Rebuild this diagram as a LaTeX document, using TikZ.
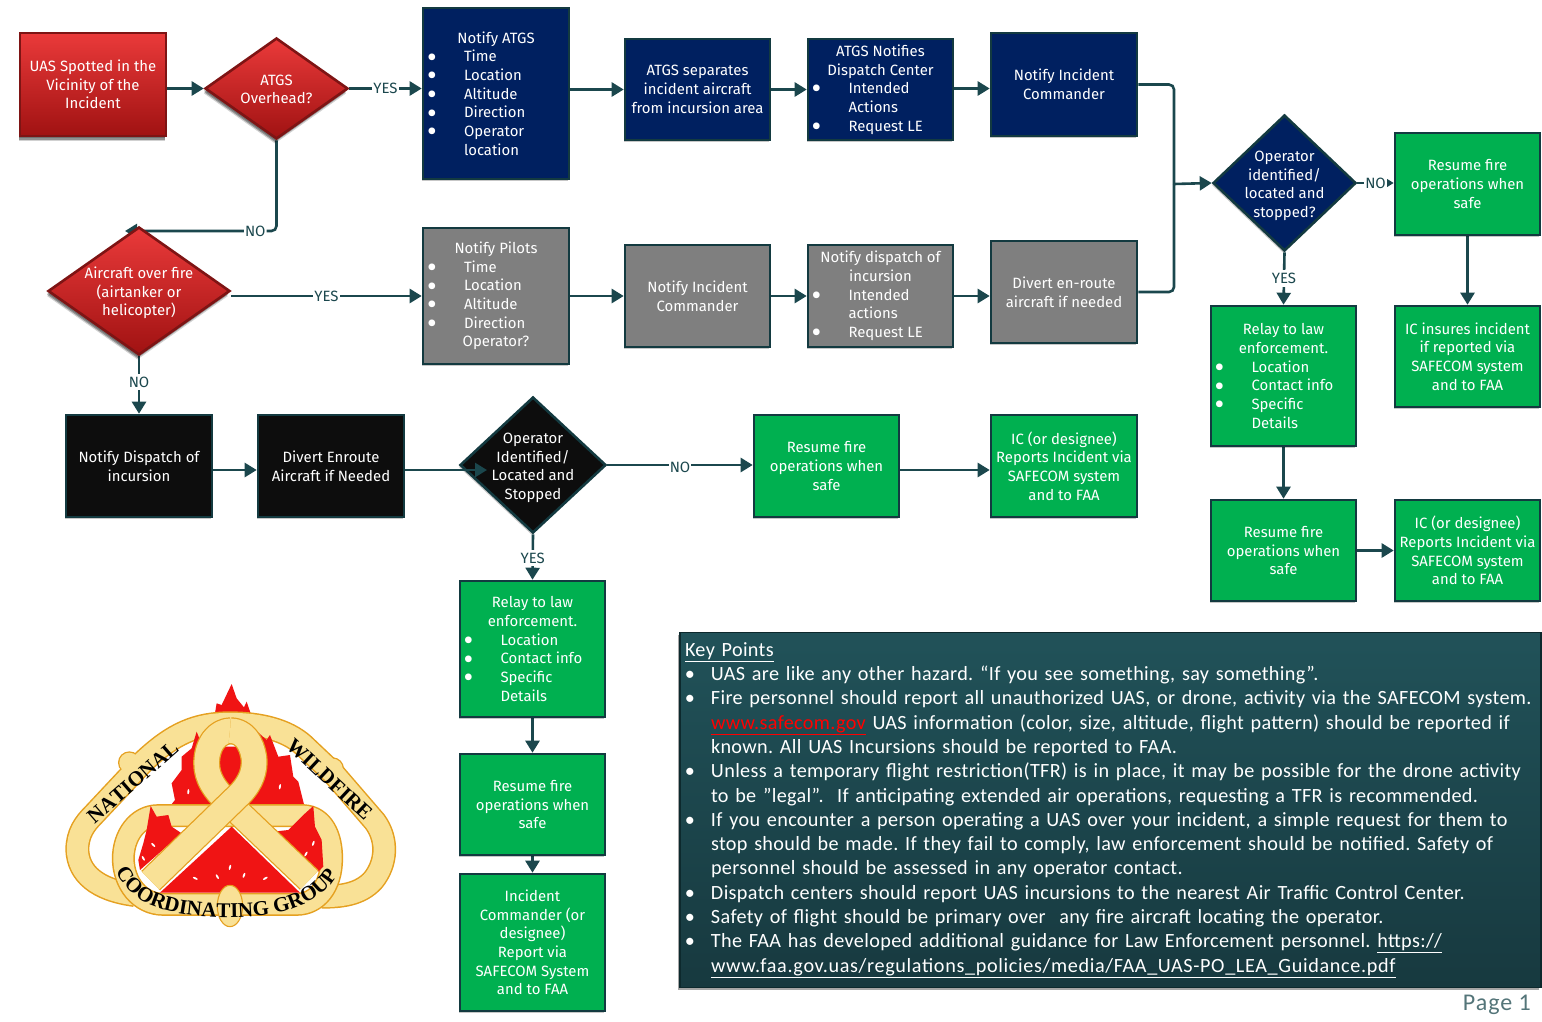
\documentclass[tikz,border=0pt]{standalone}
\usepackage{fontspec}
\setmainfont{Fira Sans}
\newfontfamily\kpfont[LetterSpace=1.7,WordSpace=0.85]{Carlito}
\newfontfamily\kuurl[LetterSpace=3.2,WordSpace=0.85]{Carlito}
\newfontfamily\pgfont[LetterSpace=4]{Carlito}
\newfontfamily\logofont{Liberation Serif}
\usetikzlibrary{shapes.geometric,shadows,arrows.meta,backgrounds,decorations.text}
\definecolor{conn}{HTML}{1B474D}
\definecolor{edge}{HTML}{133A40}
\definecolor{navyf}{HTML}{002060}
\definecolor{greyf}{HTML}{7F7F7F}
\definecolor{greenf}{HTML}{00B050}
\definecolor{blackf}{HTML}{0D0D0D}
\definecolor{redtop}{HTML}{EA3A3A}
\definecolor{redbot}{HTML}{A01212}
\definecolor{rededge}{HTML}{7E1414}
\definecolor{kptop}{HTML}{215259}
\definecolor{kpbot}{HTML}{17393F}
\definecolor{ringy}{HTML}{F9E196}
\definecolor{ringo}{HTML}{E5A020}
\definecolor{flame}{HTML}{F01414}
\newcommand{\bigdot}{\smash{\raisebox{-5.2pt}{\scalebox{2}{\char"2022}}}}
\newcommand{\bu}[1]{\makebox[140pt][l]{\hspace*{6pt}\makebox[0pt]{\bigdot}\hspace*{32pt}#1}}
\newcommand{\nb}[1]{\makebox[140pt][l]{\hspace*{38pt}#1}}
\newcommand{\kp}[1]{\makebox[26pt][l]{\hspace*{5pt}\makebox[0pt]{\char"2022}}#1}
\newcommand{\kq}[1]{\hspace*{26pt}#1}
\tikzset{
  base/.style={draw=edge,line width=2.6pt,text=white,inner sep=0pt,align=center,
    font=\fontsize{14.9}{18.7}\selectfont,
    drop shadow={shadow xshift=-1.5pt,shadow yshift=-2pt,opacity=.22,fill=black}},
  navybox/.style={base,rectangle,fill=navyf},
  greybox/.style={base,rectangle,fill=greyf},
  greenbox/.style={base,rectangle,fill=greenf},
  blackbox/.style={base,rectangle,fill=blackf},
  redbox/.style={base,rectangle,draw=rededge,top color=redtop,bottom color=redbot,
    drop shadow={shadow xshift=-1.5pt,shadow yshift=-5pt,opacity=.18,fill=black},
    drop shadow={shadow xshift=-1.5pt,shadow yshift=-3.5pt,opacity=.3,fill=black}},
  dtext/.style={text=white,align=center,inner sep=0pt,font=\fontsize{14.9}{18.7}\selectfont},
  conn/.style={draw=conn,line width=2.6pt,-{Triangle[length=12pt,width=14pt]}},
  plain/.style={draw=conn,line width=2.6pt},
  lab/.style={fill=white,text=conn,inner xsep=1pt,inner ysep=3pt,font=\fontsize{14.9}{16}\selectfont},
  band/.style={draw=#1,line cap=butt,line join=round},
}
\begin{document}
\begin{tikzpicture}[x=1pt,y=-1pt]
\useasboundingbox (0,0) rectangle (1542,1021);
\begin{scope}[on background layer]
\fill[white] (0,0) rectangle (1542,1021);
\end{scope}

% ---------- row 1
\node[redbox,minimum width=146,minimum height=103] (uas) at (93,84.5) {UAS Spotted in the\\Vicinity of the\\Incident};
\node[redbox,diamond,minimum width=143,minimum height=101,label={[dtext,yshift=-1pt]center:ATGS\\Overhead?}] (atgsq) at (276.5,88.5) {};
\node[navybox,minimum width=146,minimum height=171] (atgs) at (496,93.5) {Notify ATGS\\\bu{Time}\\\bu{Location}\\\bu{Altitude}\\\bu{Direction}\\\bu{Operator}\\\nb{location}};
\node[navybox,minimum width=145,minimum height=101] (sep) at (697.5,89.5) {ATGS separates\\incident aircraft\\from incursion area};
\node[navybox,minimum width=145,minimum height=101] (atnot) at (880.5,89.5) {ATGS Notifies\\Dispatch Center\\\bu{Intended}\\\nb{Actions}\\\bu{Request LE}};
\node[navybox,minimum width=146,minimum height=103] (ic) at (1064,84.5) {Notify Incident\\Commander};
\node[navybox,diamond,minimum width=143,minimum height=136,label={[dtext,yshift=-3pt]center:Operator\\identified/\\located and\\stopped?}] (opq) at (1284.5,183) {};
\node[greenbox,minimum width=145,minimum height=102] (res1) at (1467.5,184) {Resume fire\\operations when\\safe};

% ---------- row 2
\node[redbox,diamond,minimum width=182,minimum height=128,label={[dtext,yshift=-2pt]center:Aircraft over fire\\(airtanker or\\helicopter)}] (airq) at (139,291) {};
\node[greybox,minimum width=146,minimum height=136] (pil) at (496,296) {Notify Pilots\\\bu{Time}\\\bu{Location}\\\bu{Altitude}\\\bu{Direction}\\\makebox[140pt]{Operator?}};
\node[greybox,minimum width=145,minimum height=102] (icg) at (697.5,296) {Notify Incident\\Commander};
\node[greybox,minimum width=145,minimum height=102] (dis) at (880.5,296) {Notify dispatch of\\incursion\\\bu{Intended}\\\nb{actions}\\\bu{Request LE}};
\node[greybox,minimum width=146,minimum height=102] (div) at (1064,292) {Divert en-route\\aircraft if needed};
\node[greenbox,minimum width=145,minimum height=140] (relr) at (1283.5,376) {Relay to law\\enforcement.\\\bu{Location}\\\bu{Contact info}\\\bu{Specific}\\\nb{Details}};
\node[greenbox,minimum width=145,minimum height=101] (ins) at (1467.5,356.5) {IC insures incident\\if reported via\\SAFECOM system\\and to FAA};

% ---------- row 3
\node[blackbox,minimum width=146,minimum height=102] (ndi) at (139,466) {Notify Dispatch of\\incursion};
\node[blackbox,minimum width=146,minimum height=102] (den) at (331,466) {Divert Enroute\\Aircraft if Needed};
\node[blackbox,diamond,minimum width=146,minimum height=136,label={[dtext,yshift=-3pt]center:Operator\\Identified/\\Located and\\Stopped}] (opb) at (533,465) {};
\node[greenbox,minimum width=145,minimum height=102] (res2) at (826.5,466) {Resume fire\\operations when\\safe};
\node[greenbox,minimum width=146,minimum height=102] (ic2) at (1064,466) {IC (or designee)\\Reports Incident via\\SAFECOM system\\and to FAA};
\node[greenbox,minimum width=145,minimum height=101] (res3) at (1283.5,550.5) {Resume fire\\operations when\\safe};
\node[greenbox,minimum width=145,minimum height=101] (ic3) at (1467.5,550.5) {IC (or designee)\\Reports Incident via\\SAFECOM system\\and to FAA};

% ---------- column 3
\node[greenbox,minimum width=145,minimum height=136] (relc) at (532.5,649) {Relay to law\\enforcement.\\\bu{Location}\\\bu{Contact info}\\\bu{Specific}\\\nb{Details}};
\node[greenbox,minimum width=145,minimum height=101] (res4) at (532.5,804.5) {Resume fire\\operations when\\safe};
\node[greenbox,minimum width=145,minimum height=137] (inc) at (532.5,942.5) {Incident\\Commander (or\\designee)\\Report via\\SAFECOM System\\and to FAA};

% ---------- connectors (under the boxes)
\coordinate (airtip) at (125,231);
\coordinate (jr) at (1174,184);
\begin{scope}[on background layer]
\draw[conn] (uas.east |- atgsq.west) -- (atgsq.west);
\draw[conn] (atgsq.east) -- node[lab,pos=.5]{YES} (atgs.west |- atgsq.east);
\draw[conn] (atgs.east |- sep.west) -- (sep.west);
\draw[conn] (sep.east) -- (atnot.west);
\draw[conn] (atnot.east |- atgsq.east) -- (ic.west |- atgsq.east);
\draw[plain,rounded corners=5pt] (ic.east) -- (ic.east -| jr) -- (jr);
\draw[plain,rounded corners=5pt] (div.east) -- (div.east -| jr) -- (jr);
\draw[conn] (jr) -- (opq.west);
\draw[conn] (opq.east) -- node[lab,pos=.5]{NO} (res1.west |- opq.east);
\draw[conn] (opq.south) -- node[lab,pos=.5]{YES} (relr.north);
\draw[conn] (res1.south) -- (ins.north);
\draw[conn,rounded corners=5pt] (atgsq.south) -- (atgsq.south |- airtip) -- node[lab,pos=.14]{NO} (airtip);
\draw[conn] (airq.east |- pil.west) -- node[lab,pos=.5]{YES} (pil.west);
\draw[conn] (pil.east) -- (icg.west);
\draw[conn] (icg.east) -- (dis.west);
\draw[conn] (dis.east) -- (dis.east -| div.west);
\draw[conn] (airq.south) -- node[lab,pos=.45]{NO} (ndi.north);
\draw[conn] ([yshift=-4pt]ndi.east) -- ([yshift=-4pt]den.west);
\draw[conn] (opb.east) -- node[lab,pos=.5,yshift=-2pt]{NO} (opb.east -| res2.west);
\draw[conn] ([yshift=-4pt]res2.east) -- ([yshift=-4pt]ic2.west);
\draw[conn] (opb.south) -- node[lab,pos=.52]{YES} (relc.north);
\draw[conn] (relc.south) -- (res4.north);
\draw[conn] (res4.south) -- (inc.north);
\draw[conn] (relr.south) -- (res3.north);
\draw[conn] (res3.east) -- (ic3.west);
\end{scope}
\coordinate (btip) at (487,470);
\draw[conn] ([yshift=-4pt]den.east) -- (btip);

% ---------- key points
\node[rectangle,draw=edge!70!black,line width=1.2pt,top color=kptop,bottom color=kpbot,
  drop shadow={shadow xshift=-2.5pt,shadow yshift=-2pt,opacity=.35,fill=black},
  minimum width=861,minimum height=355,text width=851,inner xsep=5pt,inner ysep=0pt,
  align=left,text=white,font=\kpfont\frenchspacing\fontsize{20.2}{24.3}\selectfont] (kp) at (1110.5,810)
{\underline{Key Points}\\
\kp{UAS are like any other hazard. “If you see something, say something”.}\\
\kp{Fire personnel should report all unauthorized UAS, or drone, activity via the SAFECOM system.}\\
\kq{\textcolor{red}{\underline{www.safecom.gov}} UAS information (color, size, altitude, flight pattern) should be reported if}\\
\kq{known. All UAS Incursions should be reported to FAA.}\\
\kp{Unless a temporary flight restriction(TFR) is in place, it may be possible for the drone activity}\\
\kq{to be ”legal”.~ If anticipating extended air operations, requesting a TFR is recommended.}\\
\kp{If you encounter a person operating a UAS over your incident, a simple request for them to}\\
\kq{stop should be made. If they fail to comply, law enforcement should be notified. Safety of}\\
\kq{personnel should be assessed in any operator contact.}\\
\kp{Dispatch centers should report UAS incursions to the nearest Air Traffic Control Center.}\\
\kp{Safety of flight should be primary over~ any fire aircraft locating the operator.}\\
\kp{The FAA has developed additional guidance for Law Enforcement personnel. \underline{https://}}\\
\kq{\kuurl\underline{www.faa.gov.uas/regulations\_policies/media/FAA\_UAS-PO\_LEA\_Guidance.pdf}}\\[10pt]};
\node[text=conn!75!white,inner sep=0pt,anchor=east,font=\pgfont\fontsize{24}{25}\selectfont] (page) at (1531,1005) {Page 1};

% ---------- logo (drawn directly; units are 3x zoom pixels)
\begin{scope}[shift={(40,670)},x=.3333pt,y=-.3333pt]
% top flame, behind the band
\fill[flame] (575,42) -- (590,85) -- (612,112) -- (620,95) -- (632,130) -- (632,170) -- (525,170) -- (525,130) -- (530,100) -- (545,105) -- cycle;
% outer band
\def\outerband{(285,675) .. controls (170,660) and (115,610) .. (112,540) .. controls (112,490) and (135,460) .. (160,435) -- (310,275) .. controls (400,190) and (470,160) .. (570,160) .. controls (660,160) and (740,180) .. (790,225) -- (880,310) -- (1005,455) .. controls (1045,510) and (1040,580) .. (1000,630) .. controls (960,675) and (900,680) .. (845,680)}
\fill[ringo] (268,278) circle[radius=34];
\fill[ringo] (878,296) circle[radius=34];
\draw[band=ringo,line width=24pt] \outerband;
\draw[band=ringy,line width=21pt] \outerband;
\fill[ringy] (268,278) circle[radius=30];
\fill[ringy] (878,296) circle[radius=30];
% side flames, over the band's inner edge
\fill[flame] (470,185) -- (480,210) -- (470,240) -- (480,230) -- (640,230) -- (652,185) -- (680,210) -- (690,195) -- (715,260) -- (750,255) -- (760,320) -- (775,335) -- (795,415) -- (385,415) -- (405,390) -- (395,340) -- (425,300) -- (425,260) -- (455,235) -- cycle;
% lower oval band
\def\ovalband{(355,437) -- (790,437) .. controls (850,440) and (875,500) .. (875,565) .. controls (875,650) and (830,703) .. (770,703) -- (370,703) .. controls (300,703) and (250,640) .. (250,565) .. controls (250,500) and (290,437) .. (355,437) -- cycle}
\draw[band=ringo,line width=23pt] \ovalband;
\draw[band=ringy,line width=20pt] \ovalband;
% lower flames
\fill[flame] (332,408) -- (350,440) -- (385,435) -- (395,470) -- (425,490) -- (300,600) -- (295,570) -- (310,520) -- (320,480) -- cycle;
\fill[flame] (820,408) -- (825,470) -- (845,510) -- (850,590) -- (835,605) -- (700,485) -- (745,480) -- (770,455) -- (790,435) -- cycle;
\fill[flame] (575,470) -- (780,668) -- (360,668) -- cycle;
\fill[ringy,draw=ringo,line width=1.1pt] (570,708) ellipse[x radius=38,y radius=62];
% ribbon
\def\ribbonA{(808,630) -- (560,393) .. controls (525,360) and (500,325) .. (500,280) .. controls (500,225) and (530,182) .. (575,182)}
\def\ribbonB{(332,632) -- (600,372) .. controls (635,335) and (645,300) .. (642,265) .. controls (635,215) and (610,182) .. (570,182)}
\draw[band=ringo,line width=27pt] \ribbonA;
\draw[band=ringy,line width=24.5pt] \ribbonA;
\draw[band=ringo,line width=27pt] \ribbonB;
\draw[band=ringy,line width=24.5pt] \ribbonB;
% sparks
\foreach \p/\a/\l in {445/365/85,720/350/80,570/592/75,612/616/70,532/620/120,466/625/155,676/625/30,798/552/60,340/525/135,310/565/120,820/520/70}
  \fill[white] (\p,\a) ellipse[x radius=8,y radius=3,rotate=\l];
% lettering
\path[decorate,decoration={text along path,text align=center,text={|\logofont\bfseries\fontsize{21}{21}\selectfont|NATIONAL}}] (165,462) -- (420,240);
\path[decorate,decoration={text along path,text align=center,text={|\logofont\bfseries\fontsize{21}{21}\selectfont|WILDFIRE}}] (735,232) -- (975,455);
\path[decorate,decoration={text along path,text align=center,text={|\logofont\bfseries\fontsize{21}{21}\selectfont|COORDINATING GROUP}}] (228,605) .. controls (275,700) and (370,742) .. (570,742) .. controls (720,742) and (840,705) .. (892,615);
\end{scope}
\end{tikzpicture}
\end{document}
